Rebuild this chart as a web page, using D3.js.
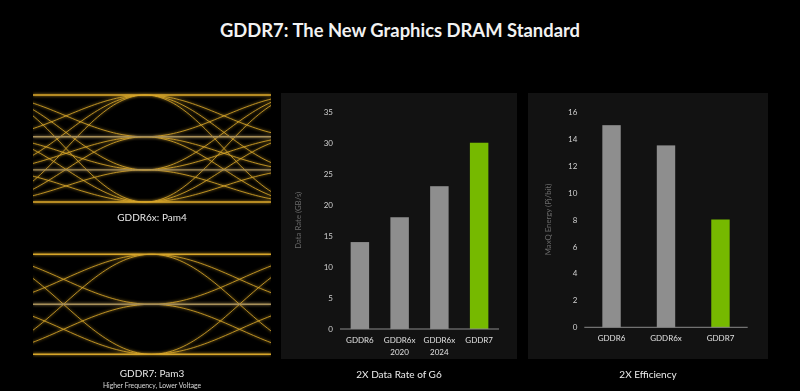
<!DOCTYPE html>
<html><head><meta charset="utf-8">
<script src="https://cdn.jsdelivr.net/npm/d3@7"></script>
<style>html,body{margin:0;padding:0;background:#000;}svg{display:block;}</style>
</head><body>
<script>
// ---------- data ----------
const title = "GDDR7: The New Graphics DRAM Standard";

const rateCategories = [["GDDR6"], ["GDDR6x", "2020"], ["GDDR6x", "2024"], ["GDDR7"]];
const rateValues = [14, 18, 23, 30];
const rateTicks = [0, 5, 10, 15, 20, 25, 30, 35];
const rateAxisTitle = "Data Rate (GB/s)";
const rateCaption = "2X Data Rate of G6";

const energyCategories = [["GDDR6"], ["GDDR6x"], ["GDDR7"]];
const energyValues = [15, 13.5, 8];
const energyTicks = [0, 2, 4, 6, 8, 10, 12, 14, 16];
const energyAxisTitle = "MaxQ Energy (Pj/bit)";
const energyCaption = "2X Efficiency";

const highlight = ["GDDR7"];

// eye-diagram signal levels (relative amplitude)
const pam4Levels = [1.0, 0.61, 0.30, 0.0];
const pam3Levels = [1.0, 0.5, 0.0];
const pam4Caption = "GDDR6x: Pam4";
const pam3Caption = "GDDR7: Pam3";
const pam3Sub = "Higher Frequency, Lower Voltage";

// ---------- drawing ----------
const W = 800, H = 391;
const svg = d3.select("body").append("svg").attr("width", W).attr("height", H);
svg.append("rect").attr("width", W).attr("height", H).attr("fill", "#000");

const FONT = "Lato, 'Open Sans', sans-serif";

const defs = svg.append("defs");
const glow = defs.append("filter").attr("id", "glow").attr("x", "-20%").attr("y", "-20%").attr("width", "140%").attr("height", "140%");
glow.append("feGaussianBlur").attr("in", "SourceGraphic").attr("stdDeviation", 1.6).attr("result", "b");
const mrg = glow.append("feMerge");
mrg.append("feMergeNode").attr("in", "b");
mrg.append("feMergeNode").attr("in", "SourceGraphic");

svg.append("text").attr("x", 400).attr("y", 36.5).attr("text-anchor", "middle")
  .attr("font-family", FONT).attr("font-weight", 700).attr("font-size", 18.4)
  .attr("fill", "#f2f2f2").text(title);

// ---- eye diagrams ----
function eye(levels, box, cx, span, clipId) {
  const y = d3.scaleLinear().domain([0, 1]).range([box.y1, box.y0]);
  const g = svg.append("g");
  defs.append("clipPath").attr("id", clipId).append("rect")
    .attr("x", box.x0).attr("y", box.y0 - 6).attr("width", box.x1 - box.x0).attr("height", box.y1 - box.y0 + 12);
  const gg = g.append("g").attr("clip-path", `url(#${clipId})`).attr("filter", "url(#glow)");
  const line = d3.line().curve(d3.curveLinear);
  const ds = d3.range(0, 1.0001, 0.02);
  [-1, 1].forEach(side => {
    levels.forEach(c => {
      levels.forEach(f => {
        if (c === f) return;
        const pts = ds.map(u => {
          const x = cx + side * u * span;
          const v = c + (f - c) * (1 - Math.cos(Math.PI * u)) / 2;
          return [x, y(v)];
        });
        const xf = cx + side * span;
        pts.push([side < 0 ? Math.min(xf, box.x0 - 5) : Math.max(xf, box.x1 + 5), y(f)]);
        gg.append("path").attr("d", line(pts)).attr("fill", "none")
          .attr("stroke", "#dcaa2a").attr("stroke-width", 0.9).attr("opacity", 0.9);
      });
    });
  });
  levels.forEach((c, i) => {
    gg.append("line").attr("x1", box.x0).attr("x2", box.x1).attr("y1", y(c)).attr("y2", y(c))
      .attr("stroke", (i === 0 || i === levels.length - 1) ? "#d8a62a" : "#a8905a").attr("stroke-width", 1.4);
  });
}
eye(pam4Levels, {x0: 33, x1: 271, y0: 95, y1: 202}, 145, 158, "c4");
eye(pam3Levels, {x0: 33, x1: 271, y0: 254.3, y1: 354.3}, 151.5, 176, "c3");

svg.append("text").attr("x", 152).attr("y", 220.5).attr("text-anchor", "middle")
  .attr("font-family", FONT).attr("font-size", 10).attr("fill", "#e8e8e8").text(pam4Caption);
svg.append("text").attr("x", 152).attr("y", 377).attr("text-anchor", "middle")
  .attr("font-family", FONT).attr("font-size", 10).attr("fill", "#e8e8e8").text(pam3Caption);
svg.append("text").attr("x", 152).attr("y", 388).attr("text-anchor", "middle")
  .attr("font-family", FONT).attr("font-size", 6.8).attr("fill", "#d8d8d8").text(pam3Sub);

// ---- bar charts ----
function barChart(cfg) {
  const g = svg.append("g");
  g.append("rect").attr("x", cfg.panel[0]).attr("y", cfg.panel[1])
    .attr("width", cfg.panel[2] - cfg.panel[0]).attr("height", cfg.panel[3] - cfg.panel[1])
    .attr("fill", "#121212");
  const names = cfg.cats.map(c => c.join(" "));
  const x = d3.scaleBand().domain(names).range(cfg.xr).paddingInner(cfg.pad).paddingOuter(cfg.pad / 2);
  const y = d3.scaleLinear().domain([0, d3.max(cfg.ticks)]).range(cfg.yr);

  const ya = g.append("g").attr("transform", `translate(${cfg.xr[0]},0)`)
    .call(d3.axisLeft(y).tickValues(cfg.ticks).tickSize(0).tickPadding(cfg.tickPad));
  ya.select(".domain").remove();
  ya.selectAll("text").attr("font-family", FONT).attr("font-size", 8).attr("fill", "#d0d0d0");

  g.selectAll(".bar").data(cfg.values).join("rect")
    .attr("x", (d, i) => x(names[i])).attr("width", x.bandwidth())
    .attr("y", d => y(d)).attr("height", d => y(0) - y(d))
    .attr("fill", (d, i) => highlight.includes(names[i]) ? "#76b900" : "#8e8e8e");

  g.append("line").attr("x1", cfg.xr[0]).attr("x2", cfg.xr[1]).attr("y1", y(0)).attr("y2", y(0))
    .attr("stroke", "#8a8a8a").attr("stroke-width", 1);

  cfg.cats.forEach((c, i) => {
    const t = g.append("text").attr("x", x(names[i]) + x.bandwidth() / 2).attr("y", y(0) + 14)
      .attr("text-anchor", "middle").attr("font-family", FONT).attr("font-size", 8).attr("fill", "#e0e0e0");
    c.forEach((s, k) => t.append("tspan").attr("x", x(names[i]) + x.bandwidth() / 2).attr("dy", k === 0 ? 0 : 11.5).text(s));
  });

  g.append("text").attr("transform", `translate(${cfg.titleX},${(cfg.yr[0] + cfg.yr[1]) / 2}) rotate(-90)`)
    .attr("text-anchor", "middle").attr("font-family", FONT).attr("font-size", 7.8)
    .attr("fill", "#6a6a6a").text(cfg.axisTitle);

  g.append("text").attr("x", (cfg.panel[0] + cfg.panel[2]) / 2).attr("y", 377.5).attr("text-anchor", "middle")
    .attr("font-family", FONT).attr("font-size", 10).attr("fill", "#ececec").text(cfg.caption);
}

barChart({
  panel: [281, 93, 517, 359], xr: [340, 499], yr: [329, 111.7], pad: 0.535, tickPad: 7,
  cats: rateCategories, values: rateValues, ticks: rateTicks, axisTitle: rateAxisTitle,
  caption: rateCaption, titleX: 301
});
barChart({
  panel: [528, 93, 768, 359], xr: [584.3, 747.7], yr: [327.3, 111.7], pad: 0.662, tickPad: 7,
  cats: energyCategories, values: energyValues, ticks: energyTicks, axisTitle: energyAxisTitle,
  caption: energyCaption, titleX: 551
});
</script>
</body></html>
